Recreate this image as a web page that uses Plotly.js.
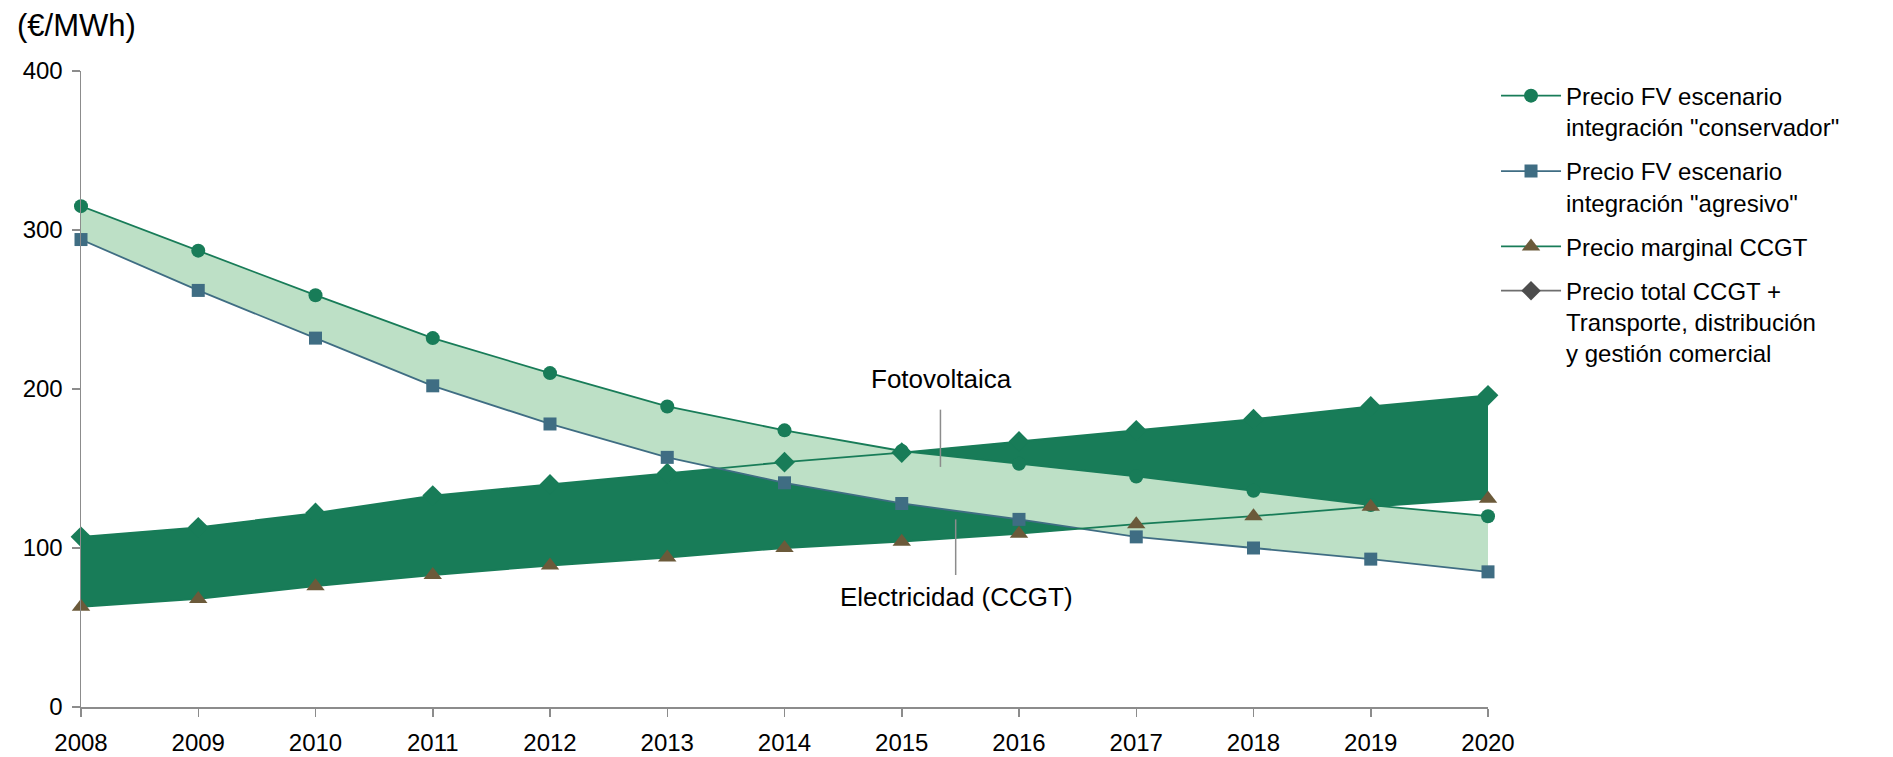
<!DOCTYPE html>
<html>
<head>
<meta charset="utf-8">
<script src="https://cdn.plot.ly/plotly-3.0.1.min.js"></script>
<style>html,body{margin:0;padding:0;background:#fff;}#chart{width:1893px;height:757px;}</style>
</head>
<body>
<div id="chart"></div>
<script>
// ---- data ----
var years = [2008, 2009, 2010, 2011, 2012, 2013, 2014, 2015, 2016, 2017, 2018, 2019, 2020];
var fvConservador = [315, 287, 259, 232, 210, 189, 174, 161, 153, 145, 136, 127, 120];
var fvAgresivo = [294, 262, 232, 202, 178, 157, 141, 128, 118, 107, 100, 93, 85];
var ccgtMarginal = [63, 68, 76, 83, 89, 94, 100, 104, 109, 115, 120, 126, 131];
var ccgtTotal = [107, 113, 122, 133, 140, 147, 154, 160, 167, 174, 181, 189, 196];
var seriesNames = [
  'Precio FV escenario<br>integración "conservador"',
  'Precio FV escenario<br>integración "agresivo"',
  'Precio marginal CCGT',
  'Precio total CCGT +<br>Transporte, distribución<br>y gestión comercial'
];
var bandLabels = ['Fotovoltaica', 'Electricidad (CCGT)'];
var yUnit = '(€/MWh)';

// ---- styles ----
var DARK = '#187c58', LIGHT = '#bde0c6', BLUE = '#3f6d83', BROWN = '#6b5a3a', AXIS = '#8c8c8c';
var FONT = 'Liberation Sans, Arial, sans-serif';
var NOLINE = {width: 0, color: 'rgba(0,0,0,0)'};

var traces = [
  // CCGT band (dark)
  {x: years, y: ccgtMarginal, mode: 'lines', line: NOLINE, showlegend: false, hoverinfo: 'skip'},
  {x: years, y: ccgtTotal, mode: 'lines', line: NOLINE, fill: 'tonexty', fillcolor: DARK, showlegend: false, hoverinfo: 'skip'},
  // FV band (light)
  {x: years, y: fvAgresivo, mode: 'lines', line: NOLINE, showlegend: false, hoverinfo: 'skip'},
  {x: years, y: fvConservador, mode: 'lines', line: NOLINE, fill: 'tonexty', fillcolor: LIGHT, showlegend: false, hoverinfo: 'skip'},
  // lines + markers
  {x: years, y: ccgtTotal, mode: 'lines+markers', name: seriesNames[3], showlegend: false,
   line: {color: DARK, width: 1.8}, marker: {symbol: 'diamond', size: 16, color: DARK}, cliponaxis: false},
  {x: years, y: fvConservador, mode: 'lines+markers', name: seriesNames[0], legendgroup: 'g1',
   line: {color: DARK, width: 1.8}, marker: {symbol: 'circle', size: 14, color: DARK}, cliponaxis: false},
  {x: years, y: fvAgresivo, mode: 'lines+markers', name: seriesNames[1], legendgroup: 'g2',
   line: {color: BLUE, width: 1.8}, marker: {symbol: 'square', size: 13, color: BLUE}, cliponaxis: false},
  {x: years, y: ccgtMarginal, mode: 'lines+markers', name: seriesNames[2], legendgroup: 'g3',
   line: {color: DARK, width: 1.8}, marker: {symbol: 'triangle-up', size: 16, color: BROWN}, cliponaxis: false},
  // legend entry for total CCGT (grey in legend)
  {x: [null], y: [null], mode: 'lines+markers', name: seriesNames[3], legendgroup: 'g4',
   line: {color: '#6e6e6e', width: 1.8}, marker: {symbol: 'diamond', size: 15, color: '#4d4d4d'}}
];

var layout = {
  width: 1893, height: 757,
  margin: {l: 81, r: 405, t: 71, b: 50},
  paper_bgcolor: '#ffffff', plot_bgcolor: '#ffffff',
  font: {family: FONT, size: 22, color: '#000000'},
  showlegend: true,
  legend: {x: 1.0057, xanchor: 'left', y: 0.996, yanchor: 'top', font: {family: FONT, size: 24, color: '#000'},
           itemwidth: 60, bgcolor: 'rgba(0,0,0,0)', traceorder: 'grouped', tracegroupgap: 10, valign: 'top'},
  xaxis: {range: [2008, 2020], dtick: 1, tick0: 2008, showgrid: false, zeroline: false,
          showline: true, linecolor: AXIS, linewidth: 1.5, ticks: 'outside', ticklen: 8,
          tickcolor: AXIS, tickwidth: 1.5, ticklabelstandoff: 6,
          tickfont: {family: FONT, size: 24, color: '#000'}, fixedrange: true},
  yaxis: {range: [0, 400], dtick: 100, showgrid: false, zeroline: false,
          showline: true, linecolor: AXIS, linewidth: 1.5, ticks: 'outside', ticklen: 8,
          tickcolor: AXIS, tickwidth: 1.5, ticklabelstandoff: 4,
          tickfont: {family: FONT, size: 24, color: '#000'}, fixedrange: true},
  annotations: [
    {xref: 'paper', yref: 'paper', x: -0.047, y: 1.072, xanchor: 'left', yanchor: 'middle',
     text: yUnit, showarrow: false, font: {family: FONT, size: 31, color: '#000'}},
    {xref: 'x', yref: 'y', x: 2015.34, y: 206, xanchor: 'center', yanchor: 'middle',
     text: bandLabels[0], showarrow: false, font: {family: FONT, size: 26, color: '#000'}},
    {xref: 'x', yref: 'y', x: 2015.47, y: 69, xanchor: 'center', yanchor: 'middle',
     text: bandLabels[1], showarrow: false, font: {family: FONT, size: 26, color: '#000'}}
  ],
  shapes: [
    {type: 'line', xref: 'x', yref: 'y', x0: 2015.33, x1: 2015.33, y0: 151, y1: 187,
     line: {color: '#8c8c8c', width: 1.5}},
    {type: 'line', xref: 'x', yref: 'y', x0: 2015.46, x1: 2015.46, y0: 83, y1: 118,
     line: {color: '#8c8c8c', width: 1.5}}
  ]
};

Plotly.newPlot('chart', traces, layout, {displayModeBar: false, staticPlot: true});
</script>
</body>
</html>
